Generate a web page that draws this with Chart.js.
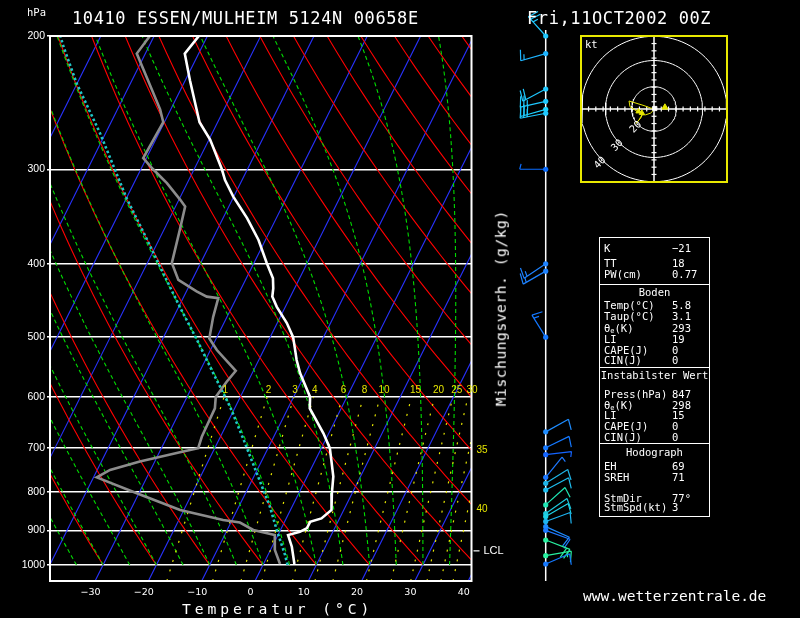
<!DOCTYPE html>
<html lang="de"><head><meta charset="utf-8"><title>Skew-T 10410 Essen</title>
<script src="https://cdn.jsdelivr.net/npm/chart.js@4.4.1/dist/chart.umd.min.js"></script>
<style>
html,body{margin:0;padding:0;background:#000;}
body{position:relative;width:800px;height:618px;overflow:hidden;color:#fff;font-family:'DejaVu Sans Mono',monospace;}
canvas{display:block;}
#skew{position:absolute;left:0;top:0;width:800px;height:618px;}
.tx{position:absolute;white-space:pre;line-height:1;}
#title{left:72px;top:9.5px;font-size:17px;letter-spacing:0.6px;}
#date{left:527px;top:9.5px;font-size:17px;letter-spacing:0.6px;}
#hpa{left:27px;top:6.8px;font-size:10.5px;}
#xlab{left:182px;top:602px;font-size:14.7px;letter-spacing:3.9px;}
#mix{left:401px;top:300.7px;width:200px;text-align:center;font-size:14.5px;letter-spacing:0.6px;transform:rotate(-90deg);}
#www{left:583px;top:589px;font-size:14.5px;}
#hodoBox{position:absolute;left:580px;top:34.5px;width:144px;height:144px;border:2px solid #e8e800;}
#hodo{width:144px;height:144px;}
#kt{left:585px;top:39px;font-size:10.5px;}
#tbl{position:absolute;left:599px;top:236.5px;width:109px;height:278px;border:1.5px solid #fff;}
.hr{position:absolute;left:599px;width:111px;height:0;border-top:1.5px solid #fff;}
.tb{font-size:10.5px;}
.c{left:599px;width:111px;text-align:center;}
sub{font-size:7px;vertical-align:-1px;line-height:0;}
</style></head>
<body>
<canvas id="skew" width="800" height="618"></canvas>
<div class="tx" id="title">10410 ESSEN/MULHEIM 5124N 00658E</div>
<div class="tx" id="date">Fri,11OCT2002 00Z</div>
<div class="tx" id="hpa">hPa</div>
<div class="tx" id="xlab">Temperatur (°C)</div>
<div class="tx" id="mix">Mischungsverh. (g/kg)</div>
<div class="tx" id="www">www.wetterzentrale.de</div>
<div id="hodoBox"><canvas id="hodo" width="144" height="144"></canvas></div>
<div class="tx" id="kt">kt</div>

<div id="tbl"></div>
<div class="hr" style="top:283.5px"></div>
<div class="hr" style="top:367px"></div>
<div class="hr" style="top:443px"></div>
<div id="rows"></div>

<script>
// ---------------- data ----------------
const yTicks = [200, 300, 400, 500, 600, 700, 800, 900, 1000];
const xTicks = [-30, -20, -10, 0, 10, 20, 30, 40];

// temperature profile (hPa, °C)
const tempP = [200,211,229,260,274,300,310,326,348,372,399,418,431,442,456,479,500,515,536,558,600,621,670,701,727,764,804,846,868,877,894,904,913,946,997];
const tempT = [-61.6,-62.6,-59.1,-53.4,-49.8,-44.8,-43.2,-40.1,-35.5,-31.3,-27.6,-25.0,-24.0,-23.4,-21.6,-18.2,-15.7,-14.5,-12.9,-11.0,-6.9,-5.9,-1.0,1.6,3.0,4.9,6.2,7.7,6.6,4.8,4.8,3.8,1.9,3.7,5.8];

// dew point profile (hPa, °C)
const dewP = [200,211,250,260,290,300,313,329,336,361,399,420,435,442,444,470,502,520,554,573,600,621,677,701,708,730,749,766,804,846,872,879,899,913,955,997];
const dewT = [-70.8,-71.6,-62.0,-60.2,-60.6,-57.7,-53.8,-49.8,-48.2,-47.0,-45.4,-42.6,-38.1,-35.7,-33.4,-32.6,-31.3,-28.8,-23.3,-24.0,-24.6,-23.7,-23.5,-23.1,-25.6,-32.8,-37.6,-39.4,-30.4,-20.7,-11.7,-8.3,-5.1,-0.6,0.8,3.1];

// lifted parcel (cyan dotted)
const parcelP = [1000,970,899,837,756,684,618,558,504,456,412,364,328,269,231,207,200];
const parcelT = [4.6,3.2,-0.7,-4.2,-9.8,-15.3,-21.0,-27.3,-33.5,-39.8,-46.0,-53.5,-59.9,-71.0,-80.1,-85.9,-87.6];

// wind barbs
const windP   = [200,211,235,244,250,253,300,400,409,500,667,700,715,766,780,796,833,855,863,876,890,900,927,972,997];
const windDir = [318,254,242,257,254,259,270,236,240,328,61,64,83,39,58,62,48,55,60,70,114,110,111,80,67];
const windSpd = [25,15,20,25,25,30,5,15,15,15,10,10,5,5,10,10,10,10,10,10,10,10,20,15,10];
const windCol = ['#1ec8ff','#1eb4ff','#1ec8ff','#1ec8ff','#1ed2ff','#1ec8ff','#0a6cff','#1e82ff','#1e82ff','#1478ff',
                 '#1e8cff','#1478ff','#1464ff','#1e78ff','#1eb4e6','#1ebef0','#1ee6b4','#1ec8dc','#1ed2e6','#1eb4f0',
                 '#1e8cff','#1e78ff','#28f0a0','#28f0a0','#1478ff'];

// background line families
const isotherms = [-90,-80,-70,-60,-50,-40,-30,-20,-10,0,10,20,30,40];
const dryAdiabats = [-40,-30,-20,-10,0,10,20,30,40,50,60,70,80,90,100,110,120,130,140,150];
const moistAdiabats = [-40,-35,-30,-25,-20,-15,-10,-5,0,5,10,15,20,25,30,35,40];
const mixRatios = [1,2,3,4,6,8,10,15,20,25,30,35,40];
const mixLabelsOut = [35, 40];
const mixLabelsOutP = [706, 844];
const lclP = 958;

// hodograph (kt)
const hodoU = [0.4,-1.4,-3.4,-4.8,-5.5,-7.4,-6.2,-4.6,-6.9,-9.9,-10.3,-4.1,-1.4,0.4];
const hodoV = [0.1,-1.7,-2.4,-2.4,-3.8,-5.9,-4.5,-1.7,-1.0,0.9,3.3,1.4,0.4,0.1];
const hodoMarkU = [-5.0,-6.4];
const hodoMarkV = [-1.6,-1.0];
const stormU = [4.5], stormV = [0.7];
const hodoRings = [9.2, 20, 30];
const hodoRingLabels = ['20', '30', '40'];

// table
const tableRows = [
  ['K','−21',247],['TT','18',262.3],['PW(cm)','0.77',273],
  ['@Boden','',291.3],
  ['Temp(°C)','5.8',304.7],['Taup(°C)','3.1',315.3],['θ<sub>e</sub>(K)','293',327.7],['LI','19',338],['CAPE(J)','0',349.3],['CIN(J)','0',359.7],
  ['@Instabilster Wert','',374.7],
  ['Press(hPa)','847',393.3],['θ<sub>e</sub>(K)','298',404],['LI','15',414.7],['CAPE(J)','0',425.3],['CIN(J)','0',436],
  ['@Hodograph','',451.3],
  ['EH','69',465.3],['SREH','71',476.3],['StmDir','77°',497],['StmSpd(kt)','3',506]
];

// ---------------- diagram geometry ----------------
const P_BOT = 1050, P_TOP = 200, X_MIN = -38.46, X_MAX = 40.62, SKEW = 30.8;
const skewX = (T, p) => T + SKEW * Math.log(P_BOT / p);
const pt = (T, p) => ({x: skewX(T, p), y: p});

function mixT(w, p){ const e = w*p/(622+w); const l = Math.log(e/6.112); return 243.5*l/(17.67-l); }
function moistRate(T, p){
  const Tc = T - 273.15, Rd = 287.04, Cp = 1005.7, Lv = 2.501e6, eps = 0.622;
  const es = 6.112*Math.exp(17.67*Tc/(Tc+243.5));
  const rs = eps*es/(p-es);
  return (Rd*T + Lv*rs)/(Cp + Lv*Lv*rs*eps/(Rd*T*T))/p;
}

const ds = [];
function line(points, color, width, dash, order, extra){
  ds.push(Object.assign({data: points, showLine: true, borderColor: color, backgroundColor: color,
    borderWidth: width, borderDash: dash || [], pointRadius: 0, tension: 0, order: order}, extra || {}));
}
// main profiles
line(tempP.map((p,i) => pt(tempT[i], p)), '#ffffff', 2.6, [], 0);
line(dewP.map((p,i) => pt(dewT[i], p)), '#8c8c8c', 2.6, [], 1);
line(parcelP.map((p,i) => pt(parcelT[i], p)), '#1ec8c8', 2.6, [2.5, 2.5], 2);
// mixing ratio lines
mixRatios.forEach(w => {
  const pts = [];
  for (let p = 1050; p >= 600; p -= 10) pts.push(pt(mixT(w, p), p));
  line(pts, '#e6e600', 1.2, [2, 8], 10);
});
// moist adiabats
moistAdiabats.forEach(tw => {
  let T = tw + 273.15, p = 1000; const pts = [pt(tw, 1000)];
  const dp = -5;
  while (p > 200) {
    const k1 = moistRate(T, p);
    const k2 = moistRate(T + k1*dp/2, p + dp/2);
    T += k2*dp; p += dp;
    pts.push(pt(T - 273.15, p));
  }
  line(pts, '#00dc00', 1.1, [4, 3], 11);
});
// dry adiabats
dryAdiabats.forEach(th => {
  const pts = [];
  for (let p = 1000; p >= 200; p -= 10) pts.push(pt((th + 273.15)*Math.pow(p/1000, 0.2857) - 273.15, p));
  line(pts, '#ff0000', 1.1, [], 12);
});
// isotherms
isotherms.forEach(T => line([pt(T, P_BOT), pt(T, P_TOP)], '#2832ff', 1.1, [], 13));

const decor = {
  id: 'decor',
  afterDraw(chart){
    const {ctx, chartArea: a, scales: {x, y}} = chart;
    ctx.save();
    // frame
    ctx.strokeStyle = '#fff'; ctx.lineWidth = 2;
    ctx.strokeRect(a.left, a.top, a.right - a.left, a.bottom - a.top);
    // mixing ratio labels
    ctx.fillStyle = '#e6e600'; ctx.font = '10px "Liberation Sans"'; ctx.textBaseline = 'middle'; ctx.textAlign = 'left';
    mixRatios.forEach(w => {
      if (w > 30) return;
      const px = x.getPixelForValue(skewX(mixT(w, 600), 600));
      ctx.fillText(String(w), px - 1.5, y.getPixelForValue(600) - 7);
    });
    mixLabelsOut.forEach((w, i) => ctx.fillText(String(w), a.right + 5, y.getPixelForValue(mixLabelsOutP[i])));
    // LCL
    const yl = y.getPixelForValue(lclP);
    ctx.strokeStyle = '#fff'; ctx.lineWidth = 1.2;
    ctx.beginPath(); ctx.moveTo(a.right + 2, yl); ctx.lineTo(a.right + 8, yl); ctx.stroke();
    ctx.fillStyle = '#fff'; ctx.font = '11px "Liberation Sans"';
    ctx.fillText('LCL', a.right + 12, yl);
    // wind staff & barbs
    const x0 = a.right + 74.2;
    ctx.lineWidth = 1.5;
    ctx.beginPath(); ctx.moveTo(x0, a.top - 6); ctx.lineTo(x0, a.bottom); ctx.stroke();
    windP.forEach((p, i) => {
      const y0 = y.getPixelForValue(p);
      const ang = windDir[i]*Math.PI/180;
      const ux = Math.sin(ang), uy = -Math.cos(ang);
      const L = 26, tx = x0 + ux*L, ty = y0 + uy*L;
      const qx = -uy, qy = ux;
      const fx = qx*0.97 - ux*0.25, fy = qy*0.97 - uy*0.25;
      ctx.strokeStyle = windCol[i]; ctx.fillStyle = windCol[i]; ctx.lineWidth = 1.2;
      ctx.beginPath(); ctx.moveTo(x0, y0); ctx.lineTo(tx, ty);
      let s = windSpd[i], d = 0; const fl = 11, step = 3.5;
      while (s >= 10) { const bx = tx - ux*d, by = ty - uy*d; ctx.moveTo(bx, by); ctx.lineTo(bx + fx*fl, by + fy*fl); s -= 10; d += step; }
      if (s >= 5) { const bx = tx - ux*d, by = ty - uy*d; ctx.moveTo(bx, by); ctx.lineTo(bx + fx*fl*0.5, by + fy*fl*0.5); }
      ctx.stroke();
      ctx.beginPath(); ctx.arc(x0, y0, 2.6, 0, 2*Math.PI); ctx.fill();
    });
    ctx.restore();
  }
};

new Chart(document.getElementById('skew'), {
  type: 'scatter',
  data: {datasets: ds},
  options: {
    responsive: false, animation: false, events: [],
    layout: {autoPadding: false, padding: {left: 0, top: 36, right: 328.5, bottom: 0}},
    plugins: {legend: {display: false}, tooltip: {enabled: false}},
    scales: {
      x: {type: 'linear', min: X_MIN, max: X_MAX,
          grid: {display: false, drawTicks: false}, border: {display: false},
          afterBuildTicks: s => { s.ticks = xTicks.map(v => ({value: v})); },
          afterFit: s => { s.height = 37; },
          ticks: {color: '#fff', padding: 6, labelOffset: -4.5, maxRotation: 0, autoSkip: false,
                  font: {family: 'DejaVu Sans', size: 9.5},
                  callback: v => (v < 0 ? '−' : '') + Math.abs(v)}},
      y: {type: 'logarithmic', reverse: true, min: P_TOP, max: P_BOT,
          grid: {color: '#fff', lineWidth: 1.5, drawTicks: true, tickLength: 3, tickColor: '#fff'},
          border: {display: false},
          afterBuildTicks: s => { s.ticks = yTicks.map(v => ({value: v})); },
          afterFit: s => { s.width = 50; },
          ticks: {color: '#fff', padding: 2, autoSkip: false,
                  font: {family: 'Liberation Sans', size: 10.5},
                  callback: v => String(v)}}
    }
  },
  plugins: [decor]
});

// ---------------- hodograph ----------------
const hds = [];
const R = 29.7;
hodoRings.forEach(r => {
  const pts = [];
  for (let k = 0; k <= 96; k++) { const t = k/96*2*Math.PI; pts.push({x: r*Math.cos(t), y: r*Math.sin(t)}); }
  hds.push({data: pts, showLine: true, borderColor: '#fff', borderWidth: 1, pointRadius: 0, order: 5});
});
hds.push({data: [{x: -R, y: 0}, {x: R, y: 0}], showLine: true, borderColor: '#fff', borderWidth: 1.5, pointRadius: 0, order: 4});
hds.push({data: [{x: 0, y: -R}, {x: 0, y: R}], showLine: true, borderColor: '#fff', borderWidth: 1.5, pointRadius: 0, order: 4});
const tickVals = [-27,-24,-21,-18,-15,-12,-9,-6,-3,3,6,9,12,15,18,21,24,27];
hds.push({data: tickVals.map(v => ({x: v, y: 0})), pointStyle: 'line', rotation: 90, pointRadius: 2.5, borderColor: '#fff', borderWidth: 1.2, order: 4});
hds.push({data: tickVals.map(v => ({x: 0, y: v})), pointStyle: 'line', rotation: 0, pointRadius: 2.5, borderColor: '#fff', borderWidth: 1.2, order: 4});
hds.push({data: hodoU.map((u, i) => ({x: u, y: hodoV[i]})), showLine: true, borderColor: '#e6e600', borderWidth: 1, pointRadius: 0, order: 2});
hds.push({data: hodoMarkU.map((u, i) => ({x: u, y: hodoMarkV[i]})), pointStyle: 'triangle', pointRadius: 3, backgroundColor: '#e6e600', borderColor: '#e6e600', order: 1});
hds.push({data: stormU.map((u, i) => ({x: u, y: stormV[i]})), pointStyle: 'triangle', pointRadius: 3.5, backgroundColor: '#e6e600', borderColor: '#e6e600', order: 1});
hds.push({data: [{x: 0.3, y: 0.2}], pointStyle: 'rect', pointRadius: 3, backgroundColor: '#fff', borderColor: '#fff', order: 0});

const ringLabels = {
  id: 'ringLabels',
  afterDraw(chart){
    const {ctx, scales: {x, y}} = chart;
    ctx.save();
    ctx.fillStyle = '#fff'; ctx.font = '10px "DejaVu Sans Mono"'; ctx.textAlign = 'center'; ctx.textBaseline = 'middle';
    hodoRings.forEach((r, i) => {
      const rr = r + 1.4, c = Math.SQRT1_2;
      ctx.save();
      ctx.translate(x.getPixelForValue(-rr*c), y.getPixelForValue(-rr*c));
      ctx.rotate(-Math.PI/4);
      ctx.fillText(hodoRingLabels[i], 0, 0);
      ctx.restore();
    });
    ctx.restore();
  }
};

new Chart(document.getElementById('hodo'), {
  type: 'scatter',
  data: {datasets: hds},
  options: {
    responsive: false, animation: false, events: [],
    layout: {autoPadding: false, padding: 0},
    plugins: {legend: {display: false}, tooltip: {enabled: false}},
    scales: {x: {type: 'linear', min: -R, max: R, display: false},
             y: {type: 'linear', min: -R, max: R, display: false}}
  },
  plugins: [ringLabels]
});

// ---------------- table ----------------
const rowsEl = document.getElementById('rows');
tableRows.forEach(([l, v, cy]) => {
  const top = (cy - 4.3) + 'px';
  if (l.startsWith('@')) {
    const d = document.createElement('div');
    d.className = 'tx tb c'; d.style.top = top; d.textContent = l.slice(1);
    rowsEl.appendChild(d);
  } else {
    const a = document.createElement('div');
    a.className = 'tx tb'; a.style.left = '604px'; a.style.top = top; a.innerHTML = l;
    const b = document.createElement('div');
    b.className = 'tx tb'; b.style.left = '672px'; b.style.top = top; b.textContent = v;
    rowsEl.appendChild(a); rowsEl.appendChild(b);
  }
});
</script>
</body></html>
